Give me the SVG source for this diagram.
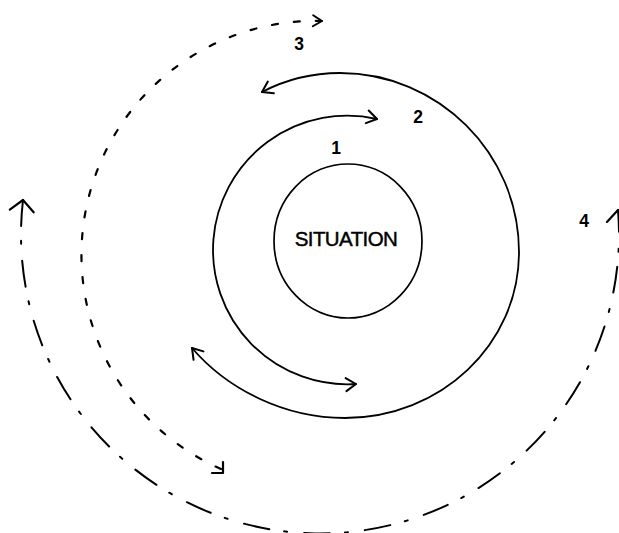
<svg xmlns="http://www.w3.org/2000/svg" width="619" height="533" viewBox="0 0 619 533">
<style>
.ln{fill:none;stroke:#000;stroke-width:1.8;stroke-linecap:round;stroke-linejoin:round}
.dot{stroke-dasharray:6 16;stroke-width:2.2}
.dd{stroke-dasharray:26 15 3 17;stroke-width:2}
.lbl{font-family:"Liberation Sans",Arial,sans-serif;font-size:17.5px;font-weight:bold;fill:#000;text-anchor:middle}
.main{font-family:"Liberation Sans",Arial,sans-serif;font-size:20.5px;letter-spacing:-0.6px;fill:#000;stroke:#000;stroke-width:0.45;text-anchor:middle}
</style>
<defs>
<marker id="ah" markerUnits="userSpaceOnUse" markerWidth="30" markerHeight="30" refX="0" refY="0" viewBox="-15 -15 30 30" orient="auto-start-reverse" overflow="visible">
<path d="M-10,-6.5 L0,0 L-10,6.5" fill="none" stroke="#000" stroke-width="2" stroke-linecap="round" stroke-linejoin="round"/>
</marker>
<marker id="ahs" markerUnits="userSpaceOnUse" markerWidth="30" markerHeight="30" refX="0" refY="0" viewBox="-15 -15 30 30" orient="auto-start-reverse" overflow="visible">
<path d="M-9,-5.5 L0,0 L-9,5.5" fill="none" stroke="#000" stroke-width="2" stroke-linecap="round" stroke-linejoin="round"/>
</marker>
<marker id="ahb" markerUnits="userSpaceOnUse" markerWidth="40" markerHeight="40" refX="0" refY="0" viewBox="-20 -20 40 40" orient="auto-start-reverse" overflow="visible">
<path d="M-11,-12 L0,0 L-11,12" fill="none" stroke="#000" stroke-width="2.2" stroke-linecap="round" stroke-linejoin="round"/>
</marker>
</defs>
<g id="situation">
<ellipse cx="348" cy="241" rx="74" ry="77" class="ln" style="stroke-width:1.7"/>
<text x="346" y="246" class="main">SITUATION</text>
</g>
<g id="labels">
<text x="336" y="154" class="lbl">1</text>
<text x="418" y="123" class="lbl">2</text>
<text x="299" y="50" class="lbl">3</text>
<text x="584" y="227" class="lbl">4</text>
</g>
<g id="connectors">
<path id="ring1" class="ln" d="M377,119 A134.3,134.3 0 1 0 356,384" marker-start="url(#ah)" marker-end="url(#ah)"/>
<path id="ring2" class="ln" d="M262,92 C285,80 312,73 340,73 C438,73 519,153 519,252 C519,345 440,418 345,418 C285,418 228,390 192,348" marker-start="url(#ah)" marker-end="url(#ah)"/>
<path id="ring3" class="ln dot" d="M221,469 A234,234 0 0 1 322,21" marker-end="url(#ahs)"/>
<path class="ln" d="M212,473 L223,473 L223,462" style="stroke-width:2.2"/>
<path id="ring4" class="ln dd" d="M23,200 A299,299 0 1 0 618,210" marker-start="url(#ahb)" marker-end="url(#ahb)"/>
</g>
</svg>
